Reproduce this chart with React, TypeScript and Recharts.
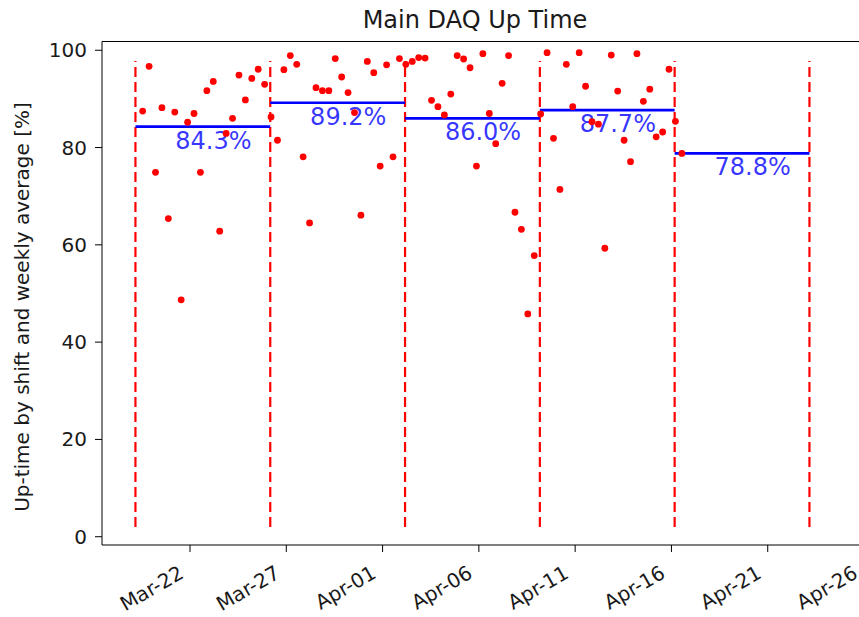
import React from 'react';
import { ComposedChart, Scatter, XAxis, YAxis, ReferenceLine, ReferenceDot } from 'recharts';

// Shift start times (MM-DD HH:MM) and up-time per shift [%]
const shiftTimes = [
  '03-19 13:00', '03-19 21:00', '03-20 05:00', '03-20 13:00', '03-20 21:00',
  '03-21 05:00', '03-21 13:00', '03-21 21:00', '03-22 05:00', '03-22 13:00',
  '03-22 21:00', '03-23 05:00', '03-23 13:00', '03-23 21:00', '03-24 05:00',
  '03-24 13:00', '03-24 21:00', '03-25 05:00', '03-25 13:00', '03-25 21:00',
  '03-26 05:00', '03-26 13:00', '03-26 21:00', '03-27 05:00', '03-27 13:00',
  '03-27 21:00', '03-28 05:00', '03-28 13:00', '03-28 21:00', '03-29 05:00',
  '03-29 13:00', '03-29 21:00', '03-30 05:00', '03-30 13:00', '03-30 21:00',
  '03-31 05:00', '03-31 13:00', '03-31 21:00', '04-01 05:00', '04-01 13:00',
  '04-01 21:00', '04-02 05:00', '04-02 13:00', '04-02 21:00', '04-03 05:00',
  '04-03 13:00', '04-03 21:00', '04-04 05:00', '04-04 13:00', '04-04 21:00',
  '04-05 05:00', '04-05 13:00', '04-05 21:00', '04-06 05:00', '04-06 13:00',
  '04-06 21:00', '04-07 05:00', '04-07 13:00', '04-07 21:00', '04-08 05:00',
  '04-08 13:00', '04-08 21:00', '04-09 05:00', '04-09 13:00', '04-09 21:00',
  '04-10 05:00', '04-10 13:00', '04-10 21:00', '04-11 05:00', '04-11 13:00',
  '04-11 21:00', '04-12 05:00', '04-12 13:00', '04-12 21:00', '04-13 05:00',
  '04-13 13:00', '04-13 21:00', '04-14 05:00', '04-14 13:00', '04-14 21:00',
  '04-15 05:00', '04-15 13:00', '04-15 21:00', '04-16 05:00', '04-16 13:00',
];

const upTime = [
  87.5, 96.7, 74.9, 88.2, 65.4,
  87.3, 48.7, 85.2, 87.0, 74.9,
  91.7, 93.6, 62.8, 82.9, 86.0,
  94.9, 89.8, 94.2, 96.1, 93.0,
  86.3, 81.5, 96.0, 98.9, 97.1,
  78.1, 64.5, 92.3, 91.7, 91.7,
  98.3, 94.5, 91.3, 87.2, 66.1,
  97.7, 95.4, 76.2, 97.0, 78.1,
  98.3, 97.1, 97.7, 98.5, 98.4,
  89.7, 88.4, 86.7, 91.0, 98.9,
  98.2, 96.4, 76.2, 99.3, 87.0,
  80.8, 93.2, 98.9, 66.7, 63.2,
  45.8, 57.8, 86.9, 99.5, 81.9,
  71.4, 97.1, 88.4, 99.5, 92.6,
  85.3, 84.8, 59.3, 99.0, 91.6,
  81.5, 77.1, 99.3, 89.5, 92.0,
  82.2, 83.2, 96.1, 85.4, 78.8,
];

// Week boundaries (dashed lines) and weekly averages [%]
const weekBoundaries = ['03-19 04:00', '03-26 04:00', '04-02 04:00', '04-09 04:00', '04-16 04:00', '04-23 04:00'];
const weeklyAverage = [84.3, 89.2, 86.0, 87.7, 78.8];

const xTickLabels = ['Mar-22', 'Mar-27', 'Apr-01', 'Apr-06', 'Apr-11', 'Apr-16', 'Apr-21', 'Apr-26'];
const yTicks = [0, 20, 40, 60, 80, 100];

const MONTH_OFFSET: Record<string, number> = { '03': 0, '04': 31, Mar: 0, Apr: 31 };

function toDay(s: string): number {
  const [md, hm] = s.split(' ');
  const [m, d] = md.split('-');
  const [h, mi] = hm.split(':').map(Number);
  return MONTH_OFFSET[m] + Number(d) + (h + mi / 60) / 24;
}
function labelToDay(l: string): number {
  const [m, d] = l.split('-');
  return MONTH_OFFSET[m] + Number(d);
}

const points = shiftTimes.map((t, i) => ({ x: toDay(t), y: upTime[i] }));
const boundaryDays = weekBoundaries.map(toDay);
const xTicks = xTickLabels.map(labelToDay);
const labelOf: Record<number, string> = {};
xTicks.forEach((d, i) => (labelOf[d] = xTickLabels[i]));

const X_MIN = 17.43;
const X_MAX = 57.83;
const Y_MIN = -1.7;
const Y_MAX = 101.8;
const DASH_LOW = 2.0;
const DASH_HIGH = 97.8;

const FONT = '"DejaVu Sans", sans-serif';
const TEXT_COLOR = '#1a1a1a';

const XTick = (props: any) => {
  const { x, y, payload } = props;
  return (
    <g transform={`translate(${x},${y})`}>
      <text
        x={0}
        y={0}
        transform="translate(-5, 25) rotate(-30)"
        textAnchor="end"
        fontSize={20}
        fontFamily={FONT}
        fill={TEXT_COLOR}
      >
        {labelOf[payload.value]}
      </text>
    </g>
  );
};

const YTick = (props: any) => {
  const { x, y, payload } = props;
  return (
    <text x={x} y={y} dy={7} textAnchor="end" fontSize={20} fontFamily={FONT} fill={TEXT_COLOR}>
      {payload.value}
    </text>
  );
};

const Dot = (props: any) => {
  const { cx, cy } = props;
  return <circle cx={cx} cy={cy} r={3.4} fill="#ff0000" />;
};

export default function App() {
  return (
    <div
      style={{
        position: 'absolute',
        left: 0,
        top: 0,
        width: 859,
        height: 617,
        overflow: 'hidden',
        background: '#ffffff',
      }}
    >
      <ComposedChart
        width={900}
        height={617}
        margin={{ top: 41.5, right: 20, bottom: 0, left: 0 }}
        style={{ fontFamily: FONT }}
      >
        <XAxis
          type="number"
          dataKey="x"
          domain={[X_MIN, X_MAX]}
          ticks={xTicks}
          interval={0}
          allowDataOverflow
          height={72}
          tickSize={7}
          tickMargin={0}
          stroke="#000"
          tick={<XTick />}
        />
        <YAxis
          type="number"
          dataKey="y"
          domain={[Y_MIN, Y_MAX]}
          ticks={yTicks}
          allowDataOverflow
          width={102}
          tickSize={7}
          tickMargin={8}
          stroke="#000"
          tick={<YTick />}
        />
        <ReferenceLine y={Y_MAX} stroke="#000" strokeWidth={1} ifOverflow="visible" />
        {boundaryDays.map((d, i) => (
          <ReferenceLine
            key={'b' + i}
            segment={[
              { x: d, y: DASH_LOW },
              { x: d, y: DASH_HIGH },
            ]}
            stroke="#ff0000"
            strokeWidth={2.2}
            strokeDasharray="10 5"
          />
        ))}
        {weeklyAverage.map((v, i) => (
          <ReferenceLine
            key={'a' + i}
            segment={[
              { x: boundaryDays[i], y: v },
              { x: boundaryDays[i + 1], y: v },
            ]}
            stroke="#0000ff"
            strokeWidth={2.6}
          />
        ))}
        {weeklyAverage.map((v, i) => (
          <ReferenceDot
            key={'t' + i}
            x={boundaryDays[i] + 4.05}
            y={v}
            r={0}
            shape={(p: any) => (
              <text
                x={p.cx}
                y={p.cy + 22}
                textAnchor="middle"
                fontSize={24}
                fontFamily={FONT}
                fill="#0000ff"
                fillOpacity={0.8}
              >
                {v.toFixed(1)}%
              </text>
            )}
          />
        ))}
        <Scatter data={points} dataKey="y" isAnimationActive={false} shape={<Dot />} />
      </ComposedChart>
      <svg
        width={859}
        height={617}
        style={{ position: 'absolute', left: 0, top: 0, pointerEvents: 'none' }}
      >
        <text x={475} y={28} textAnchor="middle" fontSize={24} fontFamily={FONT} fill={TEXT_COLOR}>
          Main DAQ Up Time
        </text>
        <text
          x={29}
          y={307}
          transform="rotate(-90, 29, 307)"
          textAnchor="middle"
          fontSize={20}
          fontFamily={FONT}
          fill={TEXT_COLOR}
        >
          Up-time by shift and weekly average [%]
        </text>
      </svg>
    </div>
  );
}
